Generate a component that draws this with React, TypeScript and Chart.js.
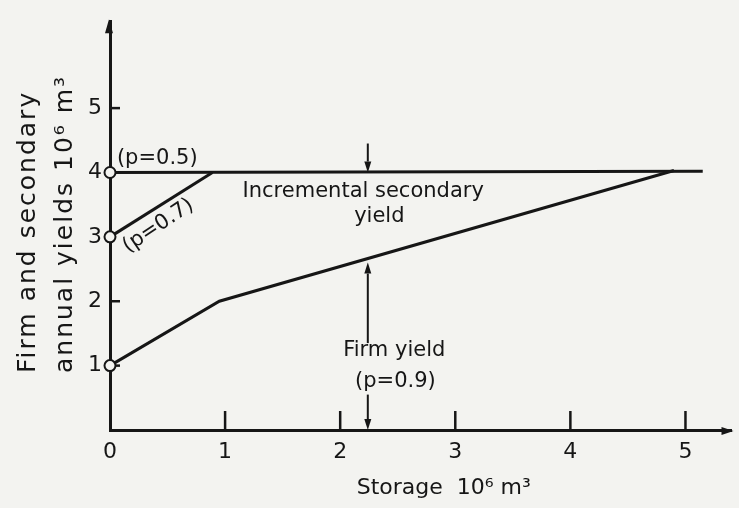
import React, { useEffect, useRef } from "react";
import { Chart, registerables } from "chart.js";

Chart.register(...registerables);

// ---- data ----
const firmX = [0, 0.95, 4.9];
const firmY = [1, 2, 4.03];
const p07X = [0, 0.89];
const p07Y = [3, 4];
const p05X = [0, 5.15];
const p05Y = [4, 4.02];

const xTickLabels = [0, 1, 2, 3, 4, 5];
const yTickLabels = [1, 2, 3, 4, 5];
const xTickMarks = [1, 2, 3, 4, 5];
const yTickMarks = [1, 2, 5];

const arrowX = 2.24;
const secondaryArrow = [4.45, 4.0];
const firmArrowUp = [1.35, 2.6];
const firmArrowDown = [0.55, 0];

const xTitle = "Storage  10⁶ m³";
const yTitleLines = ["Firm and secondary", "annual yields 10⁶ m³"];

const annotations = [
  { text: "(p=0.5)", x: 0.06, y: 4.21, align: "left", rot: 0 },
  { text: "Incremental secondary", x: 2.2, y: 3.71, align: "center", rot: 0 },
  { text: "yield", x: 2.34, y: 3.31, align: "center", rot: 0 },
  { text: "Firm yield", x: 2.47, y: 1.23, align: "center", rot: 0 },
  { text: "(p=0.9)", x: 2.48, y: 0.75, align: "center", rot: 0 },
  { text: "(p=0.7)", x: 0.42, y: 3.17, align: "center", rot: -34 },
];

const INK = "#161616";
const BG = "#f3f3f0";
const FONT = "'DejaVu Sans', sans-serif";

const pts = (xs: number[], ys: number[]) => xs.map((x, i) => ({ x, y: ys[i] }));

function drawArrow(ctx: CanvasRenderingContext2D, px: number, fromPy: number, toPy: number) {
  const dir = toPy > fromPy ? 1 : -1;
  const head = 11;
  ctx.beginPath();
  ctx.moveTo(px, fromPy);
  ctx.lineTo(px, toPy - dir * head);
  ctx.stroke();
  ctx.beginPath();
  ctx.moveTo(px, toPy);
  ctx.lineTo(px - 3.5, toPy - dir * head);
  ctx.lineTo(px + 3.5, toPy - dir * head);
  ctx.closePath();
  ctx.fill();
}

const overlay = {
  id: "overlay",
  beforeDraw(chart: any) {
    const { ctx, width, height } = chart;
    ctx.save();
    ctx.fillStyle = BG;
    ctx.fillRect(0, 0, width, height);
    ctx.restore();
  },
  beforeDatasetsDraw(chart: any) {
    const { ctx, chartArea } = chart;
    const xs = chart.scales.x;
    const ys = chart.scales.y;
    const x0 = xs.getPixelForValue(0);
    const y0 = ys.getPixelForValue(0);
    ctx.save();
    ctx.strokeStyle = INK;
    ctx.fillStyle = INK;
    ctx.lineWidth = 2.5;
    xTickMarks.forEach((v) => {
      const px = xs.getPixelForValue(v);
      ctx.beginPath();
      ctx.moveTo(px, y0);
      ctx.lineTo(px, y0 - 19);
      ctx.stroke();
    });
    yTickMarks.forEach((v) => {
      const py = ys.getPixelForValue(v);
      ctx.beginPath();
      ctx.moveTo(x0, py);
      ctx.lineTo(x0 + 10, py);
      ctx.stroke();
    });
    // axis arrowheads
    ctx.beginPath();
    ctx.moveTo(x0 - 1, chartArea.top - 2);
    ctx.lineTo(x0 - 5, chartArea.top + 12);
    ctx.lineTo(x0 + 3, chartArea.top + 12);
    ctx.closePath();
    ctx.fill();
    ctx.beginPath();
    ctx.moveTo(chartArea.right + 2, y0 + 1);
    ctx.lineTo(chartArea.right - 10, y0 - 3);
    ctx.lineTo(chartArea.right - 10, y0 + 5);
    ctx.closePath();
    ctx.fill();
    ctx.restore();
  },
  afterDatasetsDraw(chart: any) {
    const { ctx } = chart;
    const xs = chart.scales.x;
    const ys = chart.scales.y;
    ctx.save();
    ctx.fillStyle = INK;
    ctx.strokeStyle = INK;
    ctx.lineWidth = 2;
    const ax = xs.getPixelForValue(arrowX);
    drawArrow(ctx, ax, ys.getPixelForValue(secondaryArrow[0]), ys.getPixelForValue(secondaryArrow[1]));
    drawArrow(ctx, ax, ys.getPixelForValue(firmArrowUp[0]), ys.getPixelForValue(firmArrowUp[1]));
    drawArrow(ctx, ax, ys.getPixelForValue(firmArrowDown[0]), ys.getPixelForValue(firmArrowDown[1]));

    ctx.font = `21px ${FONT}`;
    ctx.textBaseline = "middle";
    annotations.forEach((a) => {
      ctx.save();
      ctx.translate(xs.getPixelForValue(a.x), ys.getPixelForValue(a.y));
      ctx.rotate((a.rot * Math.PI) / 180);
      ctx.textAlign = a.align as CanvasTextAlign;
      ctx.fillText(a.text, 0, 0);
      ctx.restore();
    });

    // x-axis title
    ctx.font = `22px ${FONT}`;
    ctx.textAlign = "center";
    ctx.textBaseline = "middle";
    ctx.fillText(xTitle, xs.getPixelForValue(2.9), xs.top + 58);

    // y-axis title (two lines, rotated)
    ctx.font = `25px ${FONT}`;
    ctx.textAlign = "left";
    ctx.textBaseline = "alphabetic";
    (ctx as any).letterSpacing = "2px";
    const baselines = [35, 72];
    const starts = [373, 373];
    yTitleLines.forEach((t, i) => {
      ctx.save();
      ctx.translate(ys.left + baselines[i], starts[i]);
      ctx.rotate(-Math.PI / 2);
      ctx.fillText(t, 0, 0);
      ctx.restore();
    });
    ctx.restore();
  },
};

export default function App() {
  const ref = useRef<HTMLCanvasElement>(null);
  useEffect(() => {
    const lineDs = (label: string, xs: number[], ys: number[]) => ({
      label,
      data: pts(xs, ys),
      showLine: true,
      clip: false,
      borderColor: INK,
      borderWidth: 3,
      pointRadius: (c: any) => (c.raw && c.raw.x === 0 ? 5.5 : 0),
      pointBackgroundColor: BG,
      pointBorderColor: INK,
      pointBorderWidth: 2,
      fill: false,
      tension: 0,
    });
    const chart = new Chart(ref.current!, {
      type: "scatter",
      data: {
        datasets: [
          lineDs("Firm yield (p=0.9)", firmX, firmY),
          lineDs("p=0.7", p07X, p07Y),
          lineDs("p=0.5", p05X, p05Y),
        ],
      },
      plugins: [overlay],
      options: {
        responsive: false,
        animation: false,
        devicePixelRatio: 1,
        layout: { padding: { top: 11, right: 3, left: 0, bottom: 0 } },
        plugins: { legend: { display: false }, tooltip: { enabled: false } },
        scales: {
          x: {
            type: "linear",
            min: 0,
            max: 5.4,
            afterFit: (s: any) => {
              s.height = 78;
            },
            afterBuildTicks: (s: any) => {
              s.ticks = xTickLabels.map((v) => ({ value: v }));
            },
            grid: { display: false, drawTicks: false },
            border: { display: true, color: INK, width: 3 },
            ticks: {
              color: INK,
              font: { family: FONT, size: 22 },
              padding: 9,
              maxRotation: 0,
              callback: (v: any) => String(v),
            },
          },
          y: {
            type: "linear",
            min: 0,
            max: 6.35,
            afterFit: (s: any) => {
              s.width = 110;
            },
            afterBuildTicks: (s: any) => {
              s.ticks = yTickLabels.map((v) => ({ value: v }));
            },
            grid: { display: false, drawTicks: false },
            border: { display: true, color: INK, width: 3 },
            ticks: {
              color: INK,
              font: { family: FONT, size: 22 },
              padding: 8,
              callback: (v: any) => String(v),
            },
          },
        },
      },
    });
    return () => chart.destroy();
  }, []);
  return (
    <div style={{ position: "fixed", left: 0, top: 0, width: 739, height: 508, background: BG }}>
      <canvas ref={ref} width={739} height={508} style={{ display: "block" }} />
    </div>
  );
}
